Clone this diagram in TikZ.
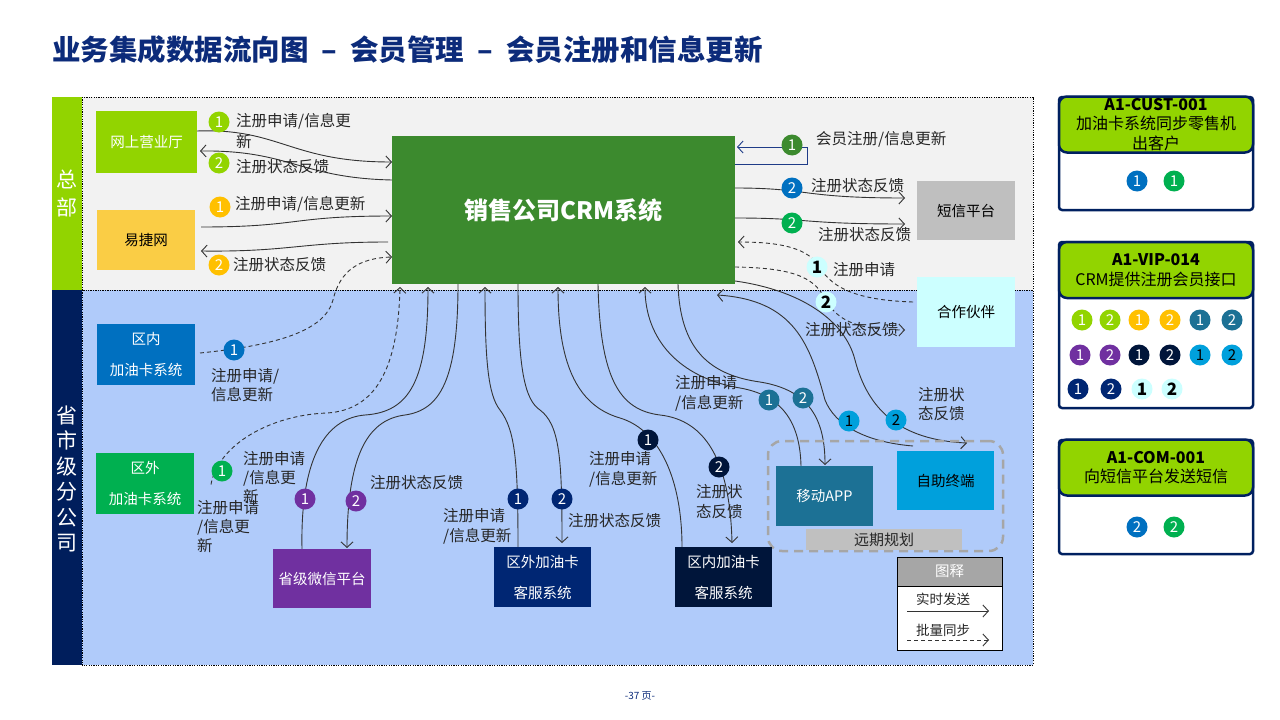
\documentclass[tikz,border=0pt]{standalone}
\usepackage{fontspec}
\setmainfont{Noto Sans CJK SC}
\usetikzlibrary{arrows.meta,calc}
\definecolor{cYG}{HTML}{92D400}
\definecolor{cYJ}{HTML}{FACD45}
\definecolor{cOr}{HTML}{FFC000}
\definecolor{cCRM}{HTML}{3C8A2E}
\definecolor{cGray}{HTML}{BFBFBF}
\definecolor{cGray2}{HTML}{C0C0C0}
\definecolor{cLC}{HTML}{CCFFFF}
\definecolor{cBlue}{HTML}{0070C0}
\definecolor{cGreen}{HTML}{00B050}
\definecolor{cPurple}{HTML}{7030A0}
\definecolor{cNavy}{HTML}{002673}
\definecolor{cDNavy}{HTML}{00153A}
\definecolor{cTeal}{HTML}{1C7195}
\definecolor{cCyan}{HTML}{00A0DC}
\definecolor{cSide}{HTML}{001E5C}
\definecolor{cTop}{HTML}{F2F2F2}
\definecolor{cBot}{HTML}{B0CBFA}
\definecolor{cTitle}{HTML}{0C2B7A}
\definecolor{cCard}{HTML}{002060}
\definecolor{cLoop}{HTML}{1F3C88}
\definecolor{cDash}{HTML}{A6A6A6}
\pgfdeclarelayer{bglayer}
\pgfdeclarelayer{linelayer}
\pgfsetlayers{bglayer,linelayer,main}
\begin{document}
\begin{tikzpicture}[x=1pt,y=-1pt,
  box/.style={draw=none, inner sep=0pt, outer sep=0pt, align=center, text=white, font=\fontsize{14.5}{31}\selectfont},
  num/.style={circle, inner sep=0pt, minimum size=21pt, fill=#1, text=white, font=\fontsize{15}{15}\selectfont},
  numk/.style={num=#1, text=black},
  numlc/.style={num=cLC, text=black, font=\bfseries\fontsize{17}{17}\selectfont},
  lbl/.style={anchor=west, inner sep=0pt, text=black!85, font=\fontsize{15.5}{17}\selectfont},
  conn/.style={line width=0.9pt, draw=black!80, -{Straight Barb[length=5.5pt,width=12pt]}},
  dconn/.style={conn, dash pattern=on 4pt off 3pt},
  cardhead/.style={fill=cYG, draw=cCard, line width=2.5pt, rounded corners=8pt, minimum width=194pt, inner sep=0pt, align=center, text=black, font=\fontsize{16}{19.5}\selectfont},
]
\useasboundingbox (0,0) rectangle (1280,720);

% regions
\begin{pgfonlayer}{bglayer}
\fill[white] (0,0) rectangle (1280,720);
\fill[cTop] (82,97) rectangle (1033,290);
\fill[cBot] (82,290) rectangle (1033,665);
\draw[black, line width=0.6pt, dash pattern=on 1.2pt off 1.2pt] (82,97) rectangle (1033,290);
\draw[black, line width=0.6pt, dash pattern=on 1.2pt off 1.2pt] (82,290) rectangle (1033,665);
\fill[cYG] (52,97) rectangle (82,290);
\fill[cSide] (52,290) rectangle (82,665);
\end{pgfonlayer}

% title
\node[anchor=west, inner sep=0pt, text=cTitle, font=\bfseries\fontsize{28.5}{30}\selectfont] (title) at (52,50) {业务集成数据流向图 \hspace{6.5pt}–\hspace{6.5pt} 会员管理 \hspace{6.5pt}–\hspace{6.5pt} 会员注册和信息更新};

\node[inner sep=0pt, align=center, text=white, font=\fontsize{21}{28}\selectfont] (zb) at (67,194) {总\\部};
\node[inner sep=0pt, align=center, text=white, font=\fontsize{21}{25.5}\selectfont] (ssj) at (67,479) {省\\市\\级\\分\\公\\司};

% future planning frame
\node[draw=cDash, line width=2.5pt, dash pattern=on 9pt off 6pt, rounded corners=14pt, minimum width=235pt, minimum height=110pt, inner sep=0pt] (future) at (885.5,496) {};

% boxes
\node[box, fill=cYG, minimum width=101pt, minimum height=62pt] (wsyt) at (146.5,142) {网上营业厅};
\node[box, fill=cYJ, text=black, minimum width=98pt, minimum height=60pt] (yjw) at (146,240) {易捷网};
\node[box, fill=cCRM, minimum width=343pt, minimum height=148pt, font=\bfseries\fontsize{24}{24}\selectfont] (crm) at (563.5,210) {销售公司CRM系统};
\node[box, fill=cGray, text=black, minimum width=98pt, minimum height=59pt] (dx) at (966,210.5) {短信平台};
\node[box, fill=cLC, text=black, minimum width=98pt, minimum height=70pt] (hz) at (966,312) {合作伙伴};
\node[box, fill=cBlue, minimum width=98pt, minimum height=61pt] (qn) at (146,354.5) {区内\\加油卡系统};
\node[box, fill=cGreen, minimum width=98pt, minimum height=61pt] (qw) at (145,483.5) {区外\\加油卡系统};
\node[box, fill=cPurple, minimum width=98pt, minimum height=59pt] (wx) at (322,578.5) {省级微信平台};
\node[box, fill=cNavy, minimum width=97pt, minimum height=60pt] (qwkf) at (542.5,577) {区外加油卡\\客服系统};
\node[box, fill=cDNavy, minimum width=97pt, minimum height=60pt] (qnkf) at (723.5,577) {区内加油卡\\客服系统};
\node[box, fill=cTeal, minimum width=97pt, minimum height=60pt] (app) at (824.5,496) {移动APP};
\node[box, fill=cCyan, text=black, minimum width=97pt, minimum height=59pt] (zz) at (945.5,480.5) {自助终端};
\node[box, fill=cGray2, text=black!85, minimum width=156pt, minimum height=21pt, font=\fontsize{15}{15}\selectfont] (yq) at (884,539.5) {远期规划};

% legend
\node[draw=black, line width=0.8pt, fill=white, minimum width=105pt, minimum height=93pt, inner sep=0pt] (leg) at (949.5,603.5) {};
\node[box, draw=black, line width=0.8pt, fill=cDash, minimum width=105pt, minimum height=29pt] (legh) at (949.5,571.5) {图释};
\node[inner sep=0pt, text=black!85, font=\fontsize{13.5}{14}\selectfont] (legt1) at (943,599) {实时发送};
\node[inner sep=0pt, text=black!85, font=\fontsize{13.5}{14}\selectfont] (legt2) at (943,630) {批量同步};
\coordinate (la1) at (907,611);
\coordinate (la2) at (989,611);
\coordinate (lb1) at (907,640);
\coordinate (lb2) at (989,640);
\draw[conn] (la1) -- (la2);
\draw[dconn] (lb1) -- (lb2);

% connectors
\begin{pgfonlayer}{linelayer}
\draw[conn] ($(wsyt.north east)+(0,20)$) .. controls (280,128) and (290,162) .. ($(crm.north west)+(0,26)$);
\draw[conn] ($(crm.north west)+(0,44)$) .. controls (300,178) and (290,150) .. ($(wsyt.north east)+(3,40)$);
\draw[conn] ($(yjw.east)+(6,-13)$) .. controls (300,227) and (290,216) .. ($(crm.west)+(0,6)$);
\draw[conn] ($(crm.west)+(-4,32)$) .. controls (300,242) and (290,252) .. ($(yjw.east)+(6,11)$);
\draw[dconn] ($(qn.east)+(5,-1.5)$) .. controls (280,345) and (325,330) .. (333,300) .. controls (340,270) and (360,258) .. ($(crm.south west)+(0,-27)$);
\draw[dconn] ($(qw.east)+(17,1)$) .. controls (218,445) and (270,415) .. (327,413) .. controls (375,410) and (398,370) .. ($(crm.south west)+(8,3)$);
\draw[conn] ($(wx.north west)+(29,0)$) .. controls (300,450) and (330,418) .. (365,415) .. controls (410,412) and (428,380) .. ($(crm.south west)+(36,3)$);
\draw[conn] ($(crm.south west)+(66,0)$) .. controls (458,380) and (440,410) .. (405,415) .. controls (365,420) and (347,460) .. ($(wx.north west)+(74,-1)$);
\draw[conn] ($(qwkf.north west)+(24,0)$) .. controls (518,460) and (515,430) .. (500,410) .. controls (488,395) and (485,360) .. ($(crm.south west)+(93,3)$);
\draw[conn] ($(crm.south west)+(126,0)$) .. controls (518,370) and (525,400) .. (540,410) .. controls (560,425) and (562,460) .. ($(qwkf.north west)+(68,-4)$);
\draw[conn] ($(qnkf.north west)+(7,0)$) .. controls (682,480) and (660,430) .. (620,418) .. controls (575,405) and (558,360) .. ($(crm.south west)+(166,3)$);
\draw[conn] ($(crm.south west)+(206,0)$) .. controls (600,380) and (620,410) .. (660,415) .. controls (705,420) and (730,460) .. ($(qnkf.north west)+(57,-4)$);
\draw[conn] ($(app.north west)+(25,0)$) .. controls (800,420) and (780,395) .. (740,388) .. controls (680,378) and (645,340) .. ($(crm.south west)+(253,3)$);
\draw[conn] ($(crm.south west)+(286,0)$) .. controls (680,350) and (710,375) .. (760,382) .. controls (810,390) and (825,420) .. ($(app.north west)+(49,-1)$);
\draw[conn] ($(zz.north west)+(16,-5)$) .. controls (865,442) and (835,425) .. (825,400) .. controls (810,345) and (795,300) .. ($(crm.south east)+(-18,11)$);
\draw[conn] ($(crm.south east)+(0,-3)$) .. controls (800,290) and (845,320) .. (855,360) .. controls (868,410) and (900,440) .. ($(zz.north west)+(70,-8)$);
\draw[conn] ($(crm.north east)+(0,52)$) .. controls (810,188) and (800,198) .. ($(dx.west)+(-12,-12.5)$);
\draw[conn] ($(crm.north east)+(0,82)$) .. controls (810,218) and (800,224) .. ($(dx.west)+(-12,13.5)$);
\draw[conn, draw=cLoop] ($(crm.north east)+(0,28)$) -- ++(72,0) -- ++(0,-17) -- ($(crm.north east)+(2,11)$);
\draw[dconn] ($(hz.west)+(-4,-10)$) .. controls (850,300) and (830,285) .. (818,265) .. controls (805,245) and (770,242) .. ($(crm.east)+(3,32)$);
\draw[dconn] ($(crm.south east)+(0,-17)$) .. controls (800,268) and (815,280) .. (826,300) .. controls (838,322) and (860,330) .. ($(hz.west)+(-12,18)$);
\end{pgfonlayer}

% number circles on connectors
\node[num=cYG] (c1) at (219,122) {1};
\node[num=cYG] (c2) at (219,163) {2};
\node[num=cOr] (c3) at (220,207) {1};
\node[num=cOr] (c4) at (219,265) {2};
\node[num=cBlue] (c5) at (234,350) {1};
\node[num=cGreen] (c6) at (222,471) {1};
\node[num=cPurple] (c7) at (305,499) {1};
\node[num=cPurple] (c8) at (356,501) {2};
\node[num=cNavy] (c9) at (518,499) {1};
\node[num=cNavy] (c10) at (562,499) {2};
\node[num=cDNavy] (c11) at (648,440) {1};
\node[num=cDNavy] (c12) at (719,467) {2};
\node[num=cTeal] (c13) at (769,400) {1};
\node[num=cTeal] (c14) at (803,398) {2};
\node[numk=cCyan] (c15) at (849,421) {1};
\node[numk=cCyan] (c16) at (896,420) {2};
\node[num=cBlue] (c17) at (792,188) {2};
\node[num=cGreen] (c18) at (792,223) {2};
\node[num=cCRM] (c19) at (792,145) {1};
\node[numlc] (c20) at (817,267) {1};
\node[numlc] (c21) at (826,302) {2};

% labels
\node[lbl] (l1a) at (236,121) {注册申请/信息更};
\node[lbl] (l1b) at (236,142) {新};
\node[lbl] (l2) at (236,167) {注册状态反馈};
\node[lbl] (l3) at (235,204) {注册申请/信息更新};
\node[lbl] (l4) at (233,265) {注册状态反馈};
\node[lbl] (l5a) at (211,376) {注册申请/};
\node[lbl] (l5b) at (211,395) {信息更新};
\node[lbl] (l6a) at (243,459) {注册申请};
\node[lbl] (l6b) at (243,478) {/信息更};
\node[lbl] (l6c) at (243,497) {新};
\node[lbl] (l7a) at (197,508) {注册申请};
\node[lbl] (l7b) at (197,527) {/信息更};
\node[lbl] (l7c) at (197,546) {新};
\node[lbl] (l8) at (370,483) {注册状态反馈};
\node[lbl] (l9a) at (443,516) {注册申请};
\node[lbl] (l9b) at (443,536) {/信息更新};
\node[lbl] (l10) at (568,521) {注册状态反馈};
\node[lbl] (l11a) at (589,459) {注册申请};
\node[lbl] (l11b) at (589,479) {/信息更新};
\node[lbl] (l12a) at (696,492) {注册状};
\node[lbl] (l12b) at (696,512) {态反馈};
\node[lbl] (l13a) at (675,383) {注册申请};
\node[lbl] (l13b) at (675,403) {/信息更新};
\node[lbl] (l14a) at (918,395) {注册状};
\node[lbl] (l14b) at (918,414) {态反馈};
\node[lbl] (l15) at (811,186) {注册状态反馈};
\node[lbl] (l16) at (818,235) {注册状态反馈};
\node[lbl] (l17) at (816,139) {会员注册/信息更新};
\node[lbl] (l18) at (833,270) {注册申请};
\node[lbl] (l19) at (805,330) {注册状态反馈};

% right cards
\draw[fill=white, draw=cCard, line width=2.5pt, rounded corners=3pt] (1059,97) rectangle (1253,210);
\node[cardhead, minimum height=56pt] (h1) at (1156,124.5) {\textbf{A1-CUST-001}\\加油卡系统同步零售机\\出客户};
\node[num=cBlue] (k1a) at (1137,181) {1};
\node[num=cGreen] (k1b) at (1174,181) {1};

\draw[fill=white, draw=cCard, line width=2.5pt, rounded corners=3pt] (1059,242) rectangle (1253,408);
\node[cardhead, minimum height=56pt] (h2) at (1156,270) {\textbf{A1-VIP-014}\\CRM提供注册会员接口};
\node[num=cYG] (k2a) at (1082,320) {1};
\node[num=cYG] (k2b) at (1110,320) {2};
\node[num=cOr] (k2c) at (1139,320) {1};
\node[num=cOr] (k2d) at (1170,320) {2};
\node[num=cTeal] (k2e) at (1200,320) {1};
\node[num=cTeal] (k2f) at (1232,320) {2};
\node[num=cPurple] (k2g) at (1080,355) {1};
\node[num=cPurple] (k2h) at (1110,355) {2};
\node[num=cDNavy] (k2i) at (1139,355) {1};
\node[num=cDNavy] (k2j) at (1170,355) {2};
\node[numk=cCyan] (k2k) at (1200,355) {1};
\node[numk=cCyan] (k2l) at (1232,355) {2};
\node[num=cNavy] (k2m) at (1078,389) {1};
\node[num=cNavy] (k2n) at (1111,389) {2};
\node[numlc] (k2o) at (1142,389) {1};
\node[numlc] (k2p) at (1172,389) {2};

\draw[fill=white, draw=cCard, line width=2.5pt, rounded corners=3pt] (1059,440) rectangle (1253,554);
\node[cardhead, minimum height=56pt] (h3) at (1156,467.5) {\textbf{A1-COM-001}\\向短信平台发送短信};
\node[num=cBlue] (k3a) at (1137,527) {2};
\node[num=cGreen] (k3b) at (1174,527) {2};

% page number
\node[inner sep=0pt, text=cTitle, font=\fontsize{10}{10}\selectfont] (pg) at (640,696) {-37 页-};
\end{tikzpicture}
\end{document}
